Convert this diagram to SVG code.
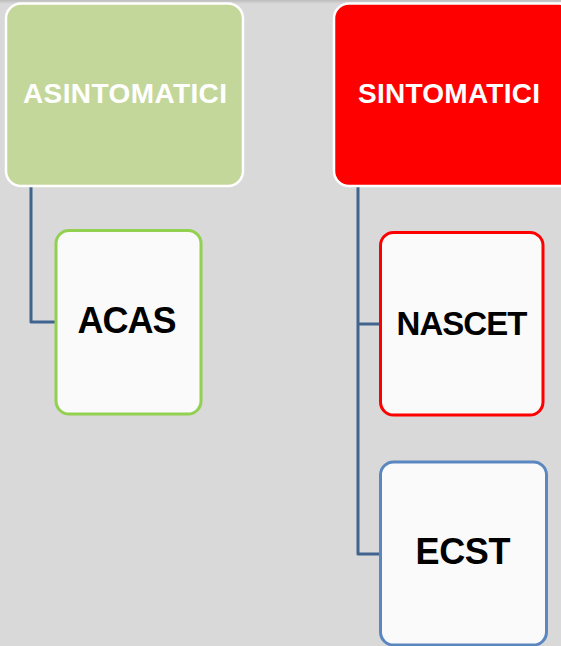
<svg xmlns="http://www.w3.org/2000/svg" width="561" height="646" viewBox="0 0 561 646">
  <defs>
    <linearGradient id="topShade" x1="0" y1="0" x2="0" y2="1">
      <stop offset="0" stop-color="#bdbdbd"/>
      <stop offset="1" stop-color="#d9d9d9"/>
    </linearGradient>
    <style>
      .bg { fill: #d9d9d9; }
      .conn { fill: none; stroke: #41648f; stroke-width: 3; stroke-linejoin: round; }
      .head { stroke: #ffffff; stroke-width: 2.5; }
      .child { fill: #fafafa; stroke-width: 3; }
      .htext { font-family: "Liberation Sans", Arial, sans-serif; font-weight: bold; font-size: 28px; fill: #ffffff; text-anchor: middle; }
      .ctext { font-family: "Liberation Sans", Arial, sans-serif; font-weight: bold; fill: #000000; text-anchor: middle; }
    </style>
  </defs>
  <rect class="bg" x="0" y="0" width="561" height="646"/>
  <rect x="0" y="0" width="561" height="4" fill="url(#topShade)"/>

  <g id="connectors">
    <path class="conn" d="M31,186 V322 H56"/>
    <path class="conn" d="M358,186 V554 H381"/>
    <path class="conn" d="M358,324 H381"/>
  </g>

  <g id="asintomatici">
    <rect class="head" x="6" y="3.5" width="237" height="182.5" rx="15" fill="#c4d79b"/>
    <text class="htext" x="125" y="103" textLength="204">ASINTOMATICI</text>
  </g>

  <g id="sintomatici">
    <rect class="head" x="334" y="3.5" width="240" height="182.5" rx="15" fill="#ff0000"/>
    <text class="htext" x="449" y="103" textLength="182">SINTOMATICI</text>
  </g>

  <g id="acas">
    <rect class="child" x="56" y="230.5" width="145" height="183.5" rx="13" stroke="#92d050"/>
    <text class="ctext" x="127" y="333" font-size="36" textLength="99">ACAS</text>
  </g>

  <g id="nascet">
    <rect class="child" x="380.5" y="232.5" width="162.5" height="182.5" rx="13" stroke="#ff0000"/>
    <text class="ctext" x="462" y="334.5" font-size="33" textLength="131">NASCET</text>
  </g>

  <g id="ecst">
    <rect class="child" x="380.5" y="462" width="166" height="183" rx="13" stroke="#5a87bf"/>
    <text class="ctext" x="463" y="564" font-size="36" textLength="95">ECST</text>
  </g>
</svg>
